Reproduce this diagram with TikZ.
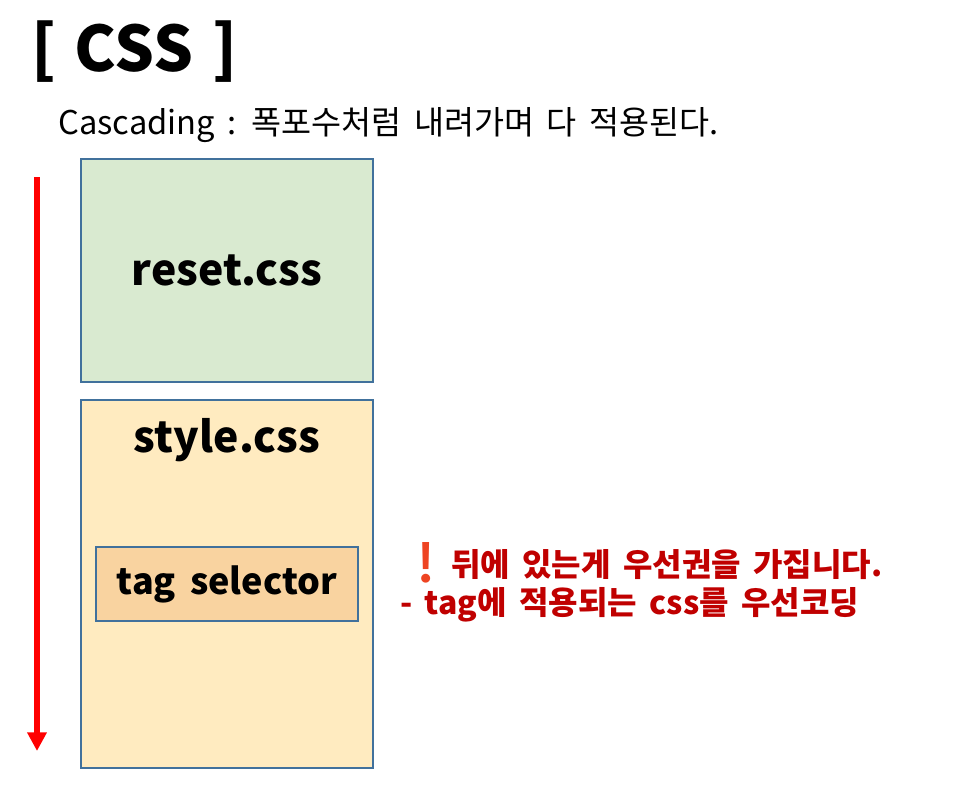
\documentclass[tikz,border=0pt]{standalone}
\usepackage{fontspec}
\setmainfont{Noto Sans CJK KR}[WordSpace=1.7]
\newfontfamily\titlefont{Noto Sans CJK KR}[WordSpace=1.3]
\newfontfamily\emojifont{Noto Emoji}
\usetikzlibrary{arrows.meta,positioning}
\definecolor{ink}{HTML}{000000}
\definecolor{boxbd}{HTML}{41719C}
\definecolor{resetbg}{HTML}{D9EAD0}
\definecolor{stylebg}{HTML}{FFEBC0}
\definecolor{tagbg}{HTML}{F9D3A0}
\definecolor{flowred}{HTML}{FF0000}
\definecolor{notered}{HTML}{C00000}
\definecolor{bang}{HTML}{EE4422}
\tikzset{
  cssbox/.style={rectangle,draw=boxbd,line width=1.5pt,anchor=north west,inner sep=0pt},
  filename/.style={font=\fontsize{32}{36}\selectfont\bfseries,text=ink},
  flowarr/.style={-{Triangle[width=14pt,length=14pt]},line width=4.5pt,color=flowred},
  notetext/.style={font=\fontsize{24}{29}\selectfont\bfseries,text=notered,align=left,anchor=north west,inner sep=0pt},
}
\begin{document}
\begin{tikzpicture}[x=0.75pt,y=-0.75pt]
  \useasboundingbox[fill=white] (0,0) rectangle (966,797);
  % title and subtitle
  \node[anchor=west,inner sep=0pt,font=\titlefont\fontsize{47}{52}\selectfont\bfseries] (title) at (31,52) {[ CSS ]};
  \node[anchor=west,inner sep=0pt,font=\fontsize{24.5}{28}\selectfont] (subtitle) at (58,125) {Cascading : 폭포수처럼 내려가며 다 적용된다.};
  % css files
  \node[cssbox,fill=resetbg,minimum width=292*0.75pt,minimum height=223*0.75pt] (reset) at (80,158) {};
  \node[filename] (resetlbl) at (reset.center) {reset.css};
  \node[cssbox,fill=stylebg,minimum width=292*0.75pt,minimum height=368*0.75pt] (style) at (80,399) {};
  \node[filename,below=11pt of style.north] (stylelbl) {style.css};
  \node[cssbox,fill=tagbg,minimum width=262*0.75pt,minimum height=74*0.75pt,filename,font=\fontsize{27}{30}\selectfont\bfseries] (tag) at (95,546) {tag selector};
  % cascading direction
  \coordinate (flowtop) at (37,177);
  \coordinate (flowend) at (37,751);
  \draw[flowarr] (flowtop) -- (flowend);
  % note
  \node[notetext] (note) at (400,542) {{\emojifont\fontsize{30}{29}\selectfont\color{bang}❗}뒤에 있는게 우선권을 가집니다.\\- tag에 적용되는 css를 우선코딩};
\end{tikzpicture}
\end{document}
